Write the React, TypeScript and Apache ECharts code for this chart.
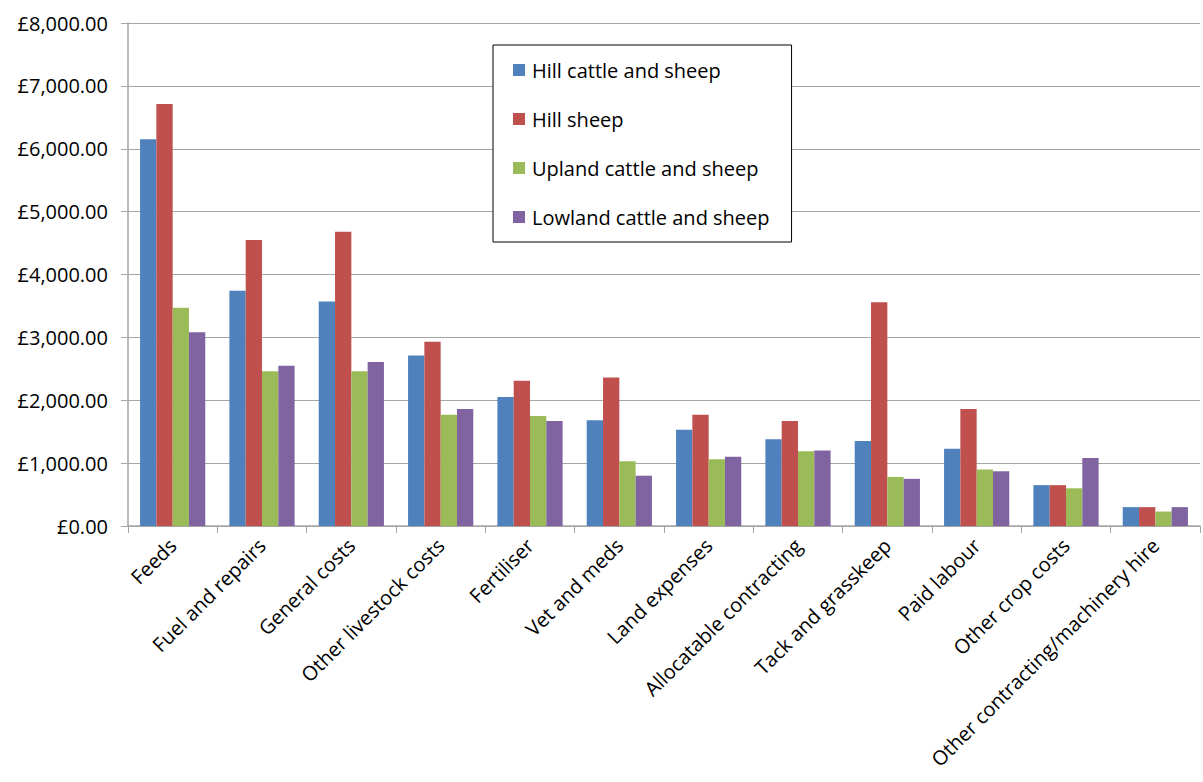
import React, { useEffect, useRef } from "react";
import * as echarts from "echarts";

const categories = [
  "Feeds",
  "Fuel and repairs",
  "General costs",
  "Other livestock costs",
  "Fertiliser",
  "Vet and meds",
  "Land expenses",
  "Allocatable contracting",
  "Tack and grasskeep",
  "Paid labour",
  "Other crop costs",
  "Other contracting/machinery hire",
];

const hillCattleSheep = [6150, 3740, 3570, 2710, 2050, 1680, 1530, 1380, 1350, 1230, 650, 300];
const hillSheep = [6710, 4550, 4680, 2930, 2310, 2360, 1770, 1670, 3560, 1860, 650, 300];
const uplandCattleSheep = [3470, 2460, 2460, 1770, 1750, 1030, 1060, 1190, 780, 900, 600, 230];
const lowlandCattleSheep = [3080, 2550, 2610, 1860, 1670, 800, 1100, 1200, 750, 870, 1080, 300];

const seriesNames = [
  "Hill cattle and sheep",
  "Hill sheep",
  "Upland cattle and sheep",
  "Lowland cattle and sheep",
];
const colors = ["#4f81bd", "#c0504d", "#9bbb59", "#8064a2"];

const FONT = "'Open Sans', 'Liberation Sans', sans-serif";

export default function App() {
  const ref = useRef<HTMLDivElement>(null);
  useEffect(() => {
    if (!ref.current) return;
    const chart = echarts.init(ref.current, undefined, { renderer: "svg" });
    const data = [hillCattleSheep, hillSheep, uplandCattleSheep, lowlandCattleSheep];
    chart.setOption({
      animation: false,
      color: colors,
      grid: { left: 128, top: 23, right: 3, bottom: 256, containLabel: false },
      legend: {
        orient: "vertical",
        left: 493,
        top: 45,
        padding: [15, 22, 15, 20],
        itemGap: 29,
        itemWidth: 12,
        itemHeight: 12,
        icon: "rect",
        borderColor: "#000",
        borderWidth: 1,
        backgroundColor: "#fff",
        textStyle: { fontFamily: FONT, fontSize: 20, lineHeight: 20, color: "#000", padding: [0, 0, 0, 2] },
        data: seriesNames,
      },
      xAxis: {
        type: "category",
        data: categories,
        axisLine: { lineStyle: { color: "#a6a6a6", width: 1.5 } },
        axisTick: { show: true, length: 7, lineStyle: { color: "#a6a6a6" } },
        axisLabel: {
          interval: 0,
          rotate: 45,
          margin: 16,
          fontFamily: FONT,
          fontSize: 20,
          color: "#000",
        },
      },
      yAxis: {
        type: "value",
        min: 0,
        max: 8000,
        interval: 1000,
        axisLine: { show: true, lineStyle: { color: "#a6a6a6", width: 1.5 } },
        axisTick: { show: true, length: 7, lineStyle: { color: "#a6a6a6" } },
        splitLine: { lineStyle: { color: "#a6a6a6", width: 1 } },
        axisLabel: {
          margin: 20,
          fontFamily: FONT,
          fontSize: 20,
          color: "#000",
          formatter: (v: number) =>
            "£" + v.toLocaleString("en-GB", { minimumFractionDigits: 2, maximumFractionDigits: 2 }),
        },
      },
      series: seriesNames.map((name, i) => ({
        name,
        type: "bar",
        data: data[i],
        barGap: "0%",
        barCategoryGap: "27%",
        itemStyle: { color: colors[i] },
      })),
    });
    return () => chart.dispose();
  }, []);
  return <div ref={ref} style={{ width: 1203, height: 782, position: "absolute", left: 0, top: 0 }} />;
}
